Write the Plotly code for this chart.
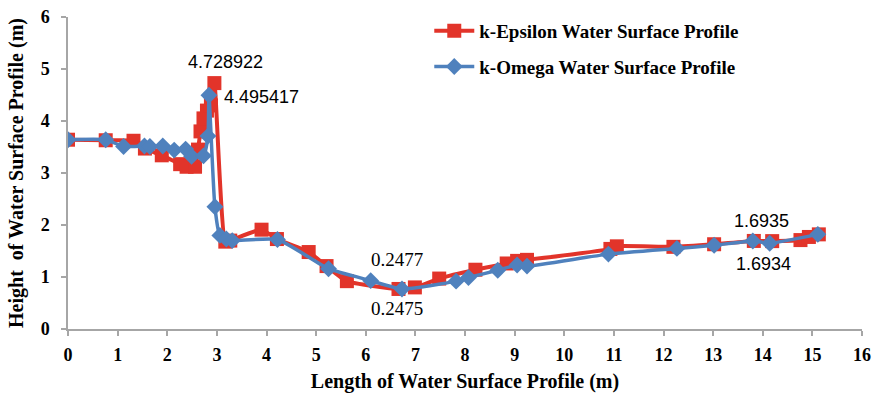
import plotly.graph_objects as go

# k-Epsilon water surface profile (length m, height m)
eps_x = [0, 0.76, 1.32, 1.55, 1.89, 2.26, 2.39, 2.56, 2.62, 2.67, 2.73, 2.80, 2.88, 2.95,
         3.17, 3.27, 3.90, 4.21, 4.85, 5.21, 5.62, 6.66, 6.99, 7.48, 8.21, 8.84, 9.05, 9.25,
         10.93, 11.06, 12.20, 13.02, 13.82, 14.19, 14.76, 14.93, 15.13]
eps_y = [3.64, 3.63, 3.62, 3.47, 3.34, 3.17, 3.12, 3.12, 3.45, 3.80, 4.05, 4.20, 4.30, 4.728922,
         1.68, 1.70, 1.91, 1.73, 1.48, 1.21, 0.92, 0.77, 0.80, 0.97, 1.14, 1.26, 1.31, 1.33,
         1.54, 1.59, 1.58, 1.63, 1.6935, 1.69, 1.71, 1.77, 1.82]

# k-Omega water surface profile (length m, height m)
omg_x = [0, 0.76, 1.12, 1.54, 1.65, 1.91, 2.14, 2.37, 2.49, 2.73, 2.82, 2.84, 2.96, 3.06,
         3.19, 3.31, 4.22, 5.25, 6.10, 6.73, 7.82, 8.07, 8.66, 9.05, 9.25, 10.89, 12.27,
         13.02, 13.80, 14.14, 15.11]
omg_y = [3.64, 3.64, 3.51, 3.52, 3.51, 3.52, 3.44, 3.46, 3.32, 3.33, 3.71, 4.495417, 2.35, 1.80,
         1.73, 1.70, 1.72, 1.16, 0.93, 0.77, 0.92, 0.99, 1.13, 1.23, 1.21, 1.44, 1.55,
         1.61, 1.6934, 1.65, 1.82]

x_ticks = list(range(0, 17))
y_ticks = list(range(0, 7))

RED = "#E2342A"
BLUE = "#4F81BD"
AXIS = "#A6A6A6"
SERIF = "Liberation Serif"
SANS = "Liberation Sans"

fig = go.Figure()
fig.add_trace(go.Scatter(
    x=eps_x, y=eps_y, mode="lines+markers", name="k-Epsilon Water Surface Profile",
    legendgroup="eps",
    line=dict(color=RED, width=4, shape="spline", smoothing=0.5),
    marker=dict(symbol="square", size=14, color=RED),
))
fig.add_trace(go.Scatter(
    x=omg_x, y=omg_y, mode="lines+markers", name="k-Omega Water Surface Profile",
    legendgroup="omg",
    line=dict(color=BLUE, width=3.5, shape="spline", smoothing=0.5),
    marker=dict(symbol="diamond", size=13, color=BLUE),
))

# value labels anchored at their points
labels = [
    (eps_x[13], eps_y[13], "4.728922", 11, 21, SANS, 18),
    (omg_x[11], omg_y[11], "4.495417", 53, -2, SANS, 18),
    (omg_x[19], omg_y[19], "0.2477", -5, 29, SERIF, 19),
    (eps_x[21], eps_y[21], "0.2475", -2, -20, SERIF, 19),
    (eps_x[32], eps_y[32], "1.6935", 8, 20, SANS, 18),
    (omg_x[28], omg_y[28], "1.6934", 11, -23, SANS, 18),
]
for x, y, t, dx, dy, fam, sz in labels:
    fig.add_annotation(x=x, y=y, text=t, showarrow=False, xshift=dx, yshift=dy,
                       font=dict(family=fam, size=sz, color="#000000"))

fig.update_layout(
    width=880, height=399,
    margin=dict(l=68, r=18, t=13, b=70),
    paper_bgcolor="white", plot_bgcolor="white",
    showlegend=True,
    legend=dict(x=0.455, y=1.016, xanchor="left", yanchor="top", itemwidth=40,
                font=dict(family=SERIF, size=19, color="#000000", weight="bold"),
                bgcolor="rgba(0,0,0,0)", tracegroupgap=8, traceorder="grouped"),
    xaxis=dict(range=[0, 16], tickvals=x_ticks, showgrid=False, zeroline=False,
               automargin=False,
               showline=True, linecolor=AXIS, linewidth=1.5,
               ticks="outside", ticklen=5, tickcolor=AXIS, tickwidth=1.5,
               ticklabelstandoff=4,
               tickfont=dict(family=SERIF, size=18, color="#000000", weight="bold"),
               title=dict(text="Length of Water Surface Profile (m)", standoff=10,
                          font=dict(family=SERIF, size=20, color="#000000", weight="bold"))),
    yaxis=dict(range=[0, 6], tickvals=y_ticks, showgrid=False, zeroline=False,
               automargin=False,
               showline=True, linecolor=AXIS, linewidth=1.5,
               ticks="outside", ticklen=5, tickcolor=AXIS, tickwidth=1.5,
               ticklabelstandoff=8,
               tickfont=dict(family=SERIF, size=18, color="#000000", weight="bold"),
               title=dict(text="Height \u00a0of Water Surface Profile (m)", standoff=12,
                          font=dict(family=SERIF, size=20, color="#000000", weight="bold"))),
)

fig.write_html("out.html")
